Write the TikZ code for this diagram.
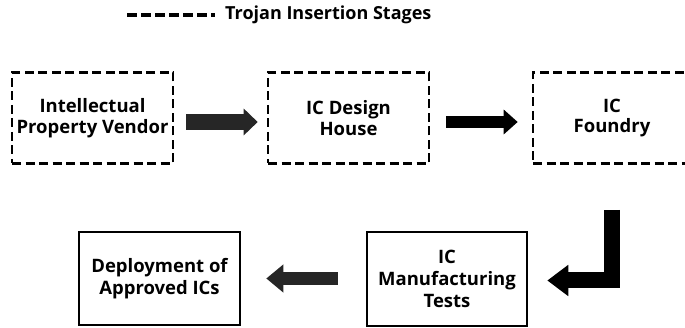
\documentclass[tikz,border=0pt]{standalone}
\usepackage{fontspec}
\setmainfont{Open Sans}
\usetikzlibrary{arrows.meta,calc}
\tikzset{
  stage/.style={draw=black, line width=2.6pt, dash pattern=on 9pt off 4.5pt,
    align=center, font=\bfseries\fontsize{18.5}{20.5}\selectfont, inner sep=0pt},
  solidstage/.style={draw=black, line width=2.6pt,
    align=center, font=\bfseries\fontsize{18.5}{22}\selectfont, inner sep=0pt},
  blockarrow/.style={draw=#1, line cap=butt, line join=miter},
}
\begin{document}
\begin{tikzpicture}[x=1pt,y=1pt]
\useasboundingbox (0,0) rectangle (685,328);
\clip (0,0) rectangle (685,328);

% legend
\coordinate (legA) at (127,313);
\coordinate (legB) at (215,313);
\draw[line width=3.2pt, dash pattern=on 10pt off 4pt] (legA) -- (legB);
\node[anchor=west, font=\bfseries\fontsize{18}{20}\selectfont, inner sep=0pt] (legtxt) at (225,313) {Trojan Insertion Stages};

% supply-chain stages
\node[stage, minimum width=161pt, minimum height=91pt] (ip) at (92.5,210) {Intellectual\\Property Vendor};
\node[stage, minimum width=161pt, minimum height=91pt] (dh) at (348.5,210) {IC Design\\House};
\node[stage, minimum width=158pt, minimum height=91pt] (fd) at (612,210) {IC\\Foundry};
\node[solidstage, minimum width=160pt, minimum height=94pt] (mt) at (447,49) {IC\\Manufacturing\\Tests};
\node[solidstage, minimum width=161pt, minimum height=93pt] (dp) at (159.5,49.5) {Deployment of\\Approved ICs};

% block arrows
\draw[blockarrow=black!85, line width=16pt, -{Triangle[length=14pt,width=26pt]}]
  ($(ip.east)+(12,-4)$) -- ($(dh.west)+(-9,-4)$);
\draw[blockarrow=black, line width=12pt, -{Triangle[length=14pt,width=24pt]}]
  ($(dh.east)+(16,-4)$) -- ($(fd.west)+(-14,-4)$);
\coordinate (ltop) at (611.5,118);
\draw[blockarrow=black, line width=16pt, -{Triangle[length=21pt,width=30pt]}]
  (ltop) |- ($(mt.east)+(19,-1.5)$);
\draw[blockarrow=black!85, line width=13pt, -{Triangle[length=17pt,width=27pt]}]
  ($(mt.west)+(-28,0.5)$) -- ($(dp.east)+(25,0)$);
\end{tikzpicture}
\end{document}
